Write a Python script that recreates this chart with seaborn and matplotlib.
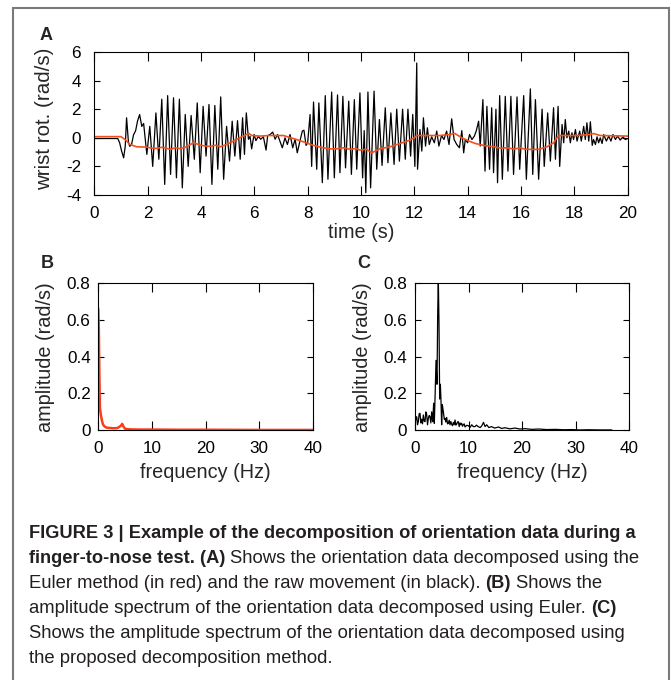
import numpy as np
import pandas as pd
import seaborn as sns
import matplotlib.pyplot as plt
from matplotlib.patches import Rectangle

# Panel A: wrist rotation over time, raw movement (black) and Euler decomposition (red)
raw_t = [
    0.00, 0.50, 0.88, 0.95, 1.02, 1.10, 1.16, 1.21, 1.28, 1.33,
    1.40, 1.47, 1.55, 1.62, 1.70, 1.78, 1.85, 1.97, 2.08, 2.19,
    2.31, 2.42, 2.53, 2.64, 2.75, 2.86, 2.97, 3.08, 3.19, 3.30,
    3.41, 3.52, 3.63, 3.75, 3.86, 3.97, 4.08, 4.19, 4.30, 4.41,
    4.52, 4.63, 4.74, 4.85, 4.96, 5.07, 5.17, 5.27, 5.37, 5.47,
    5.56, 5.63, 5.70, 5.78, 5.84, 5.90, 5.99, 6.06, 6.15, 6.24,
    6.34, 6.44, 6.50, 6.59, 6.69, 6.78, 6.87, 6.96, 7.05, 7.15,
    7.24, 7.34, 7.44, 7.53, 7.61, 7.71, 7.80, 7.86, 7.94, 8.00,
    8.09, 8.15, 8.22, 8.34, 8.42, 8.55, 8.66, 8.76, 8.90, 9.00,
    9.12, 9.21, 9.32, 9.42, 9.54, 9.64, 9.75, 9.84, 9.96, 10.06,
    10.12, 10.18, 10.26, 10.36, 10.49, 10.59, 10.69, 10.79, 10.91, 11.01,
    11.12, 11.24, 11.34, 11.44, 11.56, 11.66, 11.76, 11.86, 11.94, 12.02,
    12.09, 12.12, 12.21, 12.28, 12.34, 12.42, 12.49, 12.56, 12.65, 12.75,
    12.84, 12.92, 13.02, 13.11, 13.21, 13.30, 13.40, 13.49, 13.59, 13.69,
    13.78, 13.85, 13.91, 14.00, 14.07, 14.16, 14.25, 14.32, 14.41, 14.47,
    14.57, 14.65, 14.72, 14.82, 14.90, 14.97, 15.06, 15.12, 15.20, 15.30,
    15.41, 15.51, 15.62, 15.72, 15.85, 15.95, 16.10, 16.20, 16.35, 16.44,
    16.54, 16.66, 16.79, 16.87, 17.00, 17.10, 17.22, 17.29, 17.39, 17.45,
    17.54, 17.60, 17.66, 17.72, 17.79, 17.85, 17.91, 17.97, 18.04, 18.10,
    18.20, 18.26, 18.35, 18.41, 18.47, 18.54, 18.60, 18.67, 18.72, 18.79,
    18.85, 18.91, 18.97, 19.04, 19.10, 19.20, 19.29, 19.37, 19.45, 19.54,
    19.62, 19.72, 19.82, 19.91, 20.00,
]
raw_rot = [
    -0.05, -0.05, -0.05, -0.35, -0.90, -1.40, -0.60, 1.40, -0.30, -0.60,
    -0.45, 0.20, 0.50, 1.16, 1.63, 0.80, 1.00, -1.16, 0.80, -2.00,
    1.74, -1.50, 2.70, -3.26, 2.95, -2.56, 2.80, -2.80, 2.70, -3.50,
    1.63, -2.00, 1.56, -1.50, 2.44, -2.44, 2.20, -1.28, 2.33, -3.26,
    2.26, -2.20, 2.86, -2.90, 0.80, -1.63, 1.16, -1.28, 1.20, -1.50,
    1.40, -1.16, 1.74, -0.10, 0.10, -0.77, 0.23, -0.20, 0.10, -0.10,
    0.07, -0.86, 0.15, 0.23, 0.40, -0.10, 0.23, -0.23, -0.70, 0.00,
    -0.47, 0.23, -0.70, -0.10, -1.05, -0.23, 0.47, 0.53, -0.53, -0.35,
    1.63, -2.00, 2.50, -2.20, 2.44, -3.14, 2.95, -2.90, 3.20, -2.80,
    3.00, -2.44, 2.90, -2.10, 2.56, -2.56, 2.67, -2.20, 3.14, -2.80,
    0.50, -3.84, 3.20, -3.50, 3.26, -2.20, 1.28, -1.93, 2.10, -1.74,
    1.74, -1.86, 2.00, -1.63, 2.00, -1.50, 2.00, -1.28, 1.63, -2.00,
    5.23, -2.20, 0.58, -0.93, 1.40, -0.58, 0.70, -0.47, 0.07, -0.35,
    0.47, -0.58, 0.16, -0.12, 0.47, -0.47, 1.33, -0.12, -0.47, -0.70,
    0.50, -1.05, -0.12, -0.35, 0.23, -0.12, 0.12, 0.47, 1.16, -0.58,
    2.67, -2.33, 2.20, -2.20, 2.10, -2.44, 2.00, -3.14, 2.95, -2.90,
    2.90, -2.33, 2.90, -2.56, 2.86, -2.20, 2.95, -2.90, 3.42, -2.56,
    2.67, -2.90, 2.00, -2.00, 1.74, -1.63, 2.10, -1.50, 2.20, -2.00,
    0.93, -0.35, 1.28, 0.00, 0.47, -0.35, 0.35, -0.12, 0.58, -0.23,
    0.47, -0.23, 0.80, -0.12, 1.05, -0.23, 1.12, -0.53, -0.12, -0.47,
    0.07, -0.35, 0.00, -0.40, 0.23, -0.23, 0.12, -0.23, 0.23, -0.12,
    0.12, -0.16, 0.07, -0.12, -0.05,
]
euler_t = [
    0.0, 1.0, 1.15, 1.34, 1.59, 1.96, 2.15, 2.34, 2.55, 2.84,
    3.05, 3.21, 3.46, 3.71, 3.96, 4.15, 4.34, 4.55, 4.71, 4.96,
    5.21, 5.46, 5.71, 5.80, 5.90, 6.21, 6.59, 7.09, 7.46, 7.84,
    8.21, 8.59, 8.85, 9.09, 9.35, 9.59, 9.80, 9.96, 10.20, 10.40,
    10.71, 11.09, 11.46, 11.84, 12.00, 12.09, 12.46, 12.96, 13.34, 13.52,
    13.78, 14.05, 14.29, 14.60, 14.97, 15.25, 15.47, 15.75, 15.97, 16.15,
    16.35, 16.66, 16.97, 17.22, 17.37, 17.47, 18.10, 18.60, 18.72, 18.97,
    20.0,
]
euler_rot = [
    0.08, 0.08, -0.12, -0.47, -0.63, -0.65, -0.72, -0.74, -0.66, -0.80,
    -0.70, -0.76, -0.63, -0.35, -0.50, -0.58, -0.60, -0.52, -0.63, -0.47,
    -0.23, 0.00, 0.23, 0.30, 0.16, 0.12, 0.16, 0.16, -0.05, -0.28,
    -0.53, -0.70, -0.78, -0.77, -0.70, -0.81, -0.75, -0.86, -0.80, -1.05,
    -0.77, -0.63, -0.40, -0.16, 0.00, 0.16, 0.16, 0.16, 0.23, 0.30,
    0.00, -0.23, -0.40, -0.53, -0.63, -0.72, -0.70, -0.78, -0.70, -0.80,
    -0.81, -0.81, -0.63, -0.35, 0.07, 0.16, 0.16, 0.23, 0.30, 0.16,
    0.12,
]

# Panel B: amplitude spectrum, Euler
freq_b = [0.0, 0.1, 0.2, 0.3, 0.5, 0.7, 0.9, 1.2, 1.5, 2.0, 2.8, 3.5,
          3.9, 4.2, 4.45, 4.7, 5.0, 6.0, 8.0, 10.0, 15.0, 20.0, 30.0, 40.0]
amp_b = [0.66, 0.54, 0.30, 0.12, 0.08, 0.05, 0.03, 0.02, 0.015, 0.013, 0.011, 0.012,
         0.018, 0.025, 0.035, 0.02, 0.008, 0.005, 0.004, 0.004, 0.003, 0.003, 0.002, 0.002]

# Panel C: amplitude spectrum, proposed method
freq_c = [
    0.0, 0.12, 0.31, 0.47, 0.62, 0.78, 0.93, 1.09, 1.25, 1.40,
    1.56, 1.72, 1.87, 2.03, 2.18, 2.34, 2.49, 2.65, 2.80, 2.96,
    3.12, 3.30, 3.49, 3.61, 3.74, 3.93, 4.11, 4.24, 4.36, 4.49,
    4.61, 4.74, 4.86, 4.98, 5.11, 5.30, 5.48, 5.61, 5.76, 5.92,
    6.08, 6.23, 6.39, 6.54, 6.70, 6.85, 7.01, 7.17, 7.32, 7.48,
    7.64, 7.79, 7.95, 8.10, 8.26, 8.41, 8.57, 8.72, 8.88, 9.03,
    9.20, 9.35, 9.66, 9.97, 10.3, 10.6, 10.9, 11.2, 11.5, 11.8,
    12.2, 12.5, 12.8, 13.1, 13.4, 13.8, 14.3, 14.9, 15.6, 16.2,
    16.8, 17.7, 18.7, 19.6, 20.6, 21.8, 23.1, 24.6, 26.2, 27.8,
    29.3, 30.8, 32.4, 34.5, 36.8,
]
amp_c = [
    0.050, 0.056, 0.074, 0.030, 0.047, 0.090, 0.092, 0.040, 0.060, 0.035,
    0.083, 0.050, 0.047, 0.100, 0.087, 0.030, 0.065, 0.080, 0.074, 0.040,
    0.100, 0.047, 0.147, 0.038, 0.170, 0.380, 0.250, 0.630, 0.820, 0.570,
    0.170, 0.250, 0.160, 0.030, 0.140, 0.100, 0.060, 0.065, 0.045, 0.070,
    0.035, 0.038, 0.055, 0.030, 0.048, 0.033, 0.025, 0.043, 0.030, 0.056,
    0.028, 0.033, 0.045, 0.047, 0.020, 0.040, 0.030, 0.038, 0.022, 0.030,
    0.035, 0.018, 0.027, 0.025, 0.016, 0.030, 0.020, 0.020, 0.028, 0.020,
    0.015, 0.025, 0.043, 0.020, 0.030, 0.015, 0.020, 0.012, 0.018, 0.010,
    0.014, 0.008, 0.012, 0.007, 0.009, 0.005, 0.007, 0.004, 0.005, 0.003,
    0.004, 0.002, 0.003, 0.002, 0.002,
]

time_ticks = list(range(0, 21, 2))
rot_ticks = [-4, -2, 0, 2, 4, 6]
freq_ticks = [0, 10, 20, 30, 40]
amp_ticks = [0, 0.2, 0.4, 0.6, 0.8]
amp_labels = ["0", "0.2", "0.4", "0.6", "0.8"]

caption = [
    [("FIGURE 3 | Example of the decomposition of orientation data during a", "bold")],
    [("finger-to-nose test. (A)", "bold"), ("Shows the orientation data decomposed using the", "normal")],
    [("Euler method (in red) and the raw movement (in black).", "normal"), ("(B)", "bold"), ("Shows the", "normal")],
    [("amplitude spectrum of the orientation data decomposed using Euler.", "normal"), ("(C)", "bold")],
    [("Shows the amplitude spectrum of the orientation data decomposed using", "normal")],
    [("the proposed decomposition method.", "normal")],
]

sns.set_style("ticks")
plt.rcParams["font.family"] = ["Liberation Sans", "DejaVu Sans"]
plt.rcParams["axes.unicode_minus"] = False

W, H = 671, 680
fig = plt.figure(figsize=(W / 100, H / 100), dpi=100)


def box(l, t, r, b):
    return [l / W, 1 - b / H, (r - l) / W, (b - t) / H]


def style(ax, xpad, ypad):
    ax.tick_params(direction="in", top=True, right=True, width=0.8,
                   colors="black", labelsize=12.3)
    ax.tick_params(axis="x", length=6.5, pad=xpad)
    ax.tick_params(axis="y", length=4, pad=ypad)
    for s in ax.spines.values():
        s.set_linewidth(0.8)
        s.set_color("black")


RED = "#f2501e"

# A
axA = fig.add_axes(box(94.3, 52, 627.7, 195))
sns.lineplot(x=raw_t, y=raw_rot, ax=axA, color="black", lw=0.9, estimator=None)
sns.lineplot(x=euler_t, y=euler_rot, ax=axA, color=RED, lw=1.2, estimator=None)
axA.set_xlim(0, 20)
axA.set_ylim(-4, 6)
axA.set_xticks(time_ticks)
axA.set_yticks(rot_ticks)
style(axA, 8, 9.5)
axA.set_xlabel("time (s)", fontsize=14.3, va="center")
axA.set_ylabel("wrist rot. (rad/s)", fontsize=14.8, va="center")
axA.xaxis.set_label_coords(0.5, (195 - 232) / 143)
axA.yaxis.set_label_coords((44.5 - 94.3) / 533.4, (195 - 119) / 143)

# B
axB = fig.add_axes(box(98.3, 283, 313, 430.3))
sns.lineplot(x=freq_b, y=amp_b, ax=axB, color="#ff3a1a", lw=1.8, estimator=None)

# C
axC = fig.add_axes(box(415, 283, 629, 430.3))
sns.lineplot(x=freq_c, y=amp_c, ax=axC, color="black", lw=0.9, estimator=None)

for ax, lab_x in [(axB, 46), (axC, 363)]:
    ax.set_xlim(0, 40)
    ax.set_ylim(0, 0.8)
    ax.set_xticks(freq_ticks)
    ax.set_yticks(amp_ticks)
    ax.set_yticklabels(amp_labels)
    style(ax, 8, 5.5)
    ax.set_xlabel("frequency (Hz)", fontsize=14.3, va="center")
    ax.set_ylabel("amplitude (rad/s)", fontsize=14.3, va="center")
    left = ax.get_position().x0 * W
    width = ax.get_position().width * W
    ax.xaxis.set_label_coords(0.5, (430.3 - 472) / 147.3)
    ax.yaxis.set_label_coords((lab_x - left) / width, 0.5)

# panel letters
for letter, x, y in [("A", 46.5, 35.5), ("B", 47, 263.5), ("C", 363.5, 263.5)]:
    fig.text(x / W, 1 - y / H, letter, fontsize=13, fontweight="bold",
             ha="center", va="center")

# border around figure and caption
fig.patches.append(Rectangle((13 / W, -0.05), (669 - 13) / W, 1.05 - 8 / H,
                             transform=fig.transFigure, fill=False,
                             ec="#7a7a7a", lw=1.5))

# caption, fitted to the line widths of the original
renderer = fig.canvas.get_renderer()


def text_width(s, size, weight):
    t = fig.text(0, 0, s, fontsize=size, fontweight=weight)
    w = t.get_window_extent(renderer=renderer).width
    t.remove()
    return w


size_r = 10 * 598 / text_width(caption[4][0][0], 10, "normal")
size_b = 10 * 606 / text_width(caption[0][0][0], 10, "bold")
space = text_width("x x", size_r, "normal") - text_width("xx", size_r, "normal")

baseline = 538.3
for line in caption:
    x = 29
    for run, weight in line:
        size = size_b if weight == "bold" else size_r
        fig.text(x / W, 1 - baseline / H, run, fontsize=size, fontweight=weight,
                 color="#231f20", ha="left", va="baseline")
        x += text_width(run, size, weight) + space
    baseline += 25

fig.savefig("out.png", dpi=100)
